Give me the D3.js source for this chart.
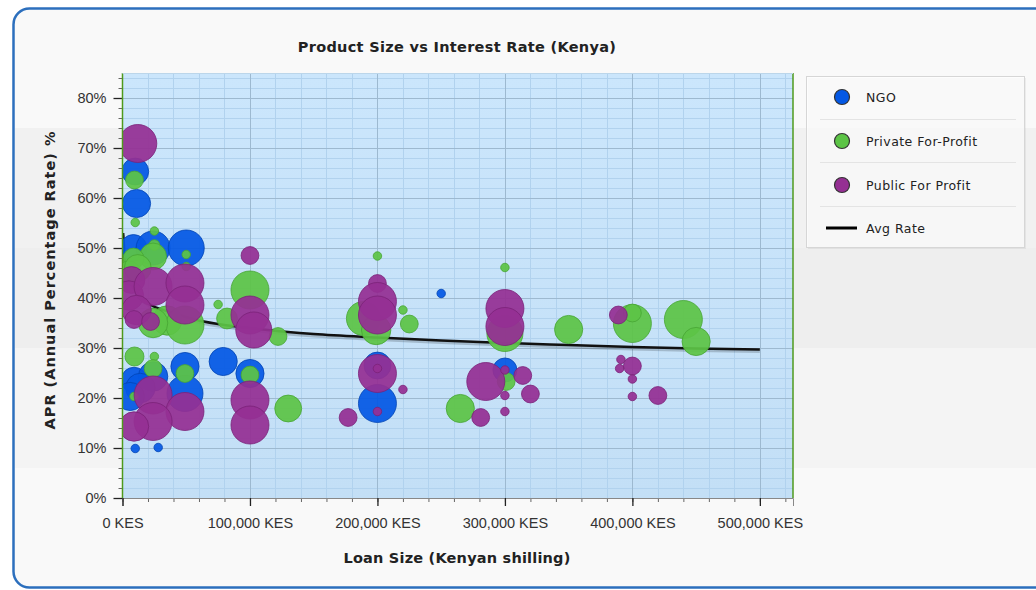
<!DOCTYPE html>
<html>
<head>
<meta charset="utf-8">
<script src="https://cdn.jsdelivr.net/npm/d3@7"></script>
<style>
  body { margin: 0; background: #ffffff; }
  svg { display: block; }
</style>
</head>
<body>
<svg width="1036" height="590"></svg>
<script>
// series: [loan size KES, APR %, bubble size]
var ngoPoints = [
  [10000, 65.3, 50], [11000, 58.9, 55], [8600, 50.0, 50], [24000, 50.0, 80],
  [50000, 50.0, 90], [79000, 27.3, 55], [100000, 24.9, 55], [49000, 26.3, 55],
  [9000, 23.6, 45], [24000, 24.3, 60], [14000, 22.0, 60], [6000, 20.3, 55],
  [49000, 20.9, 90], [10000, 9.9, 5], [28000, 10.1, 5], [250000, 40.9, 5],
  [200000, 26.5, 50], [200000, 18.9, 100], [300000, 25.6, 40]
];
var privatePoints = [
  [9400, 63.6, 22], [10000, 55.1, 5], [25000, 53.4, 5], [25000, 50.6, 8],
  [50000, 48.7, 5], [50000, 46.3, 5], [24000, 48.3, 50], [8600, 47.9, 30],
  [5000, 45.0, 40], [12000, 46.0, 50], [35000, 35.5, 60], [49000, 34.6, 100],
  [24000, 35.0, 60], [100000, 41.6, 100],
  [75000, 38.7, 5], [82000, 35.9, 30], [122000, 32.3, 22], [9400, 28.3, 25],
  [25000, 28.3, 5], [24000, 25.9, 22], [49000, 24.9, 22], [100000, 24.6, 22],
  [9000, 20.3, 5], [130000, 17.9, 50], [200000, 48.4, 5], [189000, 35.9, 80],
  [199000, 33.6, 60], [220000, 37.6, 5], [225000, 34.8, 22], [300000, 46.1, 5],
  [300000, 32.9, 90], [350000, 33.7, 55], [400000, 34.9, 100], [400000, 37.0, 22],
  [440000, 35.7, 100], [450000, 31.3, 55], [265000, 17.9, 55], [301000, 23.3, 22]
];
var publicPoints = [
  [12000, 70.9, 100], [100000, 48.5, 22], [7000, 43.6, 50], [5000, 40.5, 60],
  [24000, 42.3, 100], [49000, 43.0, 100], [49000, 38.6, 100], [11000, 37.6, 60],
  [9000, 35.7, 22], [22000, 35.3, 22], [100000, 36.6, 100], [103000, 33.6, 90],
  [24000, 20.6, 100], [49000, 17.3, 100], [24000, 15.3, 100], [9000, 14.3, 60],
  [100000, 19.6, 100], [100000, 14.6, 100], [200000, 42.9, 22], [200000, 39.3, 100],
  [200000, 36.6, 100], [200000, 24.9, 100], [200000, 25.9, 5], [200000, 17.3, 5],
  [220000, 21.7, 5], [177000, 16.1, 22], [281000, 16.1, 22], [285000, 23.3, 100],
  [300000, 37.9, 100], [300000, 34.3, 100], [300000, 25.6, 5], [300000, 20.5, 5],
  [300000, 17.3, 5], [314000, 24.5, 22], [320000, 20.8, 22], [389000, 36.6, 22],
  [391000, 27.7, 5], [390000, 25.9, 5], [400000, 26.4, 22], [400000, 23.8, 5],
  [400000, 20.3, 5], [420000, 20.5, 22]
];
var avgRate = [
  [500, 53.0], [2000, 47.5], [5000, 44.0], [10000, 41.5], [20000, 39.0],
  [40000, 37.0], [60000, 35.5], [80000, 34.6], [100000, 34.0], [150000, 32.8],
  [200000, 32.1], [250000, 31.5], [300000, 31.0], [350000, 30.6], [400000, 30.2],
  [450000, 29.9], [500000, 29.7]
];
var seriesNames = ["NGO", "Private For-Profit", "Public For Profit"];
var seriesFill = ["#0458e4", "#5cc446", "#952f93"];
var seriesStroke = ["#0345b4", "#47a534", "#7a2278"];
var xTicks = [0, 100000, 200000, 300000, 400000, 500000];
var yTicks = [0, 10, 20, 30, 40, 50, 60, 70, 80];

var svg = d3.select("svg");

// page / panel background
svg.append("rect").attr("x", 13).attr("y", 8).attr("width", 1100).attr("height", 580)
  .attr("rx", 16).attr("fill", "#f9f9f9");
var bands = [[128, 248, "#f1f1f1"], [248, 348, "#eeeeee"], [348, 468, "#f4f4f4"]];
svg.selectAll(".band").data(bands).enter().append("rect")
  .attr("x", 15).attr("width", 1021)
  .attr("y", function (d) { return d[0]; })
  .attr("height", function (d) { return d[1] - d[0]; })
  .attr("fill", function (d) { return d[2]; });
svg.append("rect").attr("x", 13.5).attr("y", 8.5).attr("width", 1100).attr("height", 579)
  .attr("rx", 16).attr("fill", "none").attr("stroke", "#2c6fbd").attr("stroke-width", 2.5);

var x = d3.scaleLinear().domain([0, 526000]).range([122.5, 793]);
var y = d3.scaleLinear().domain([0, 85]).range([498, 73]);
var r = d3.scaleSqrt().domain([0, 100]).range([0, 19]);

// plot background
var defs = svg.append("defs");
var grad = defs.append("linearGradient").attr("id", "plotbg")
  .attr("x1", 0).attr("y1", 0).attr("x2", 0).attr("y2", 1);
grad.append("stop").attr("offset", "0%").attr("stop-color", "#cbe6fc");
grad.append("stop").attr("offset", "100%").attr("stop-color", "#c3dff6");
defs.append("clipPath").attr("id", "plotclip").append("rect")
  .attr("x", 122.5).attr("y", 73).attr("width", 793 - 122.5).attr("height", 425);

svg.append("rect").attr("x", 122.5).attr("y", 73).attr("width", 793 - 122.5).attr("height", 425)
  .attr("fill", "url(#plotbg)");

// grid
var grid = svg.append("g");
grid.selectAll(".vminor").data(d3.range(20000, 526000, 20000)).enter().append("line")
  .attr("x1", function (d) { return Math.round(x(d)) + 0.5; })
  .attr("x2", function (d) { return Math.round(x(d)) + 0.5; })
  .attr("y1", 73).attr("y2", 498).attr("stroke", "#b1d2ee");
grid.selectAll(".hminor").data(d3.range(2, 86, 2)).enter().append("line")
  .attr("y1", function (d) { return Math.round(y(d)) + 0.5; })
  .attr("y2", function (d) { return Math.round(y(d)) + 0.5; })
  .attr("x1", 122.5).attr("x2", 793).attr("stroke", "#b1d2ee");
grid.selectAll(".vmajor").data(xTicks.slice(1)).enter().append("line")
  .attr("x1", function (d) { return Math.round(x(d)) + 0.5; })
  .attr("x2", function (d) { return Math.round(x(d)) + 0.5; })
  .attr("y1", 73).attr("y2", 498).attr("stroke", "#9db9d0");
grid.selectAll(".hmajor").data(yTicks.slice(1)).enter().append("line")
  .attr("y1", function (d) { return Math.round(y(d)) + 0.5; })
  .attr("y2", function (d) { return Math.round(y(d)) + 0.5; })
  .attr("x1", 122.5).attr("x2", 793).attr("stroke", "#9db9d0");

var plot = svg.append("g").attr("clip-path", "url(#plotclip)");

// average line (under the bubbles)
var line = d3.line()
  .x(function (d) { return x(d[0]); })
  .y(function (d) { return y(d[1]); })
  .curve(d3.curveMonotoneX);
plot.append("path").datum(avgRate).attr("d", line)
  .attr("transform", "translate(0,2)")
  .attr("fill", "none").attr("stroke", "#000").attr("stroke-opacity", 0.18).attr("stroke-width", 3);
plot.append("path").datum(avgRate).attr("d", line)
  .attr("fill", "none").attr("stroke", "#111").attr("stroke-width", 2.5);

// bubbles
[ngoPoints, privatePoints, publicPoints].forEach(function (pts, i) {
  plot.append("g").selectAll("circle").data(pts).enter().append("circle")
    .attr("cx", function (d) { return x(d[0]); })
    .attr("cy", function (d) { return y(d[1]); })
    .attr("r", function (d) { return r(d[2]); })
    .attr("fill", seriesFill[i])
    .attr("fill-opacity", 0.93)
    .attr("stroke", seriesStroke[i])
    .attr("stroke-opacity", 0.8)
    .attr("stroke-width", 1);
});

// axes
var yMinor = svg.append("g").attr("transform", "translate(122.5,0)")
  .call(d3.axisLeft(y).tickValues(d3.range(0, 86, 2)).tickSize(4).tickFormat(""));
yMinor.select(".domain").remove();
yMinor.selectAll("line").attr("stroke", "#666");

var yAxis = svg.append("g").attr("transform", "translate(122.5,0)")
  .call(d3.axisLeft(y).tickValues(yTicks).tickSize(9).tickPadding(7)
    .tickFormat(function (d) { return d + "%"; }));
yAxis.select(".domain").remove();
yAxis.selectAll("line").attr("stroke", "#222").attr("stroke-width", 1.3);
yAxis.selectAll("text").attr("font-family", "Liberation Sans, Arial, sans-serif")
  .attr("font-size", 14.5).attr("fill", "#333");

var xMinor = svg.append("g").attr("transform", "translate(0,498)")
  .call(d3.axisBottom(x).tickValues(d3.range(0, 526000, 20000)).tickSize(4).tickFormat(""));
xMinor.select(".domain").remove();
xMinor.selectAll("line").attr("stroke", "#666");

var xAxis = svg.append("g").attr("transform", "translate(0,498)")
  .call(d3.axisBottom(x).tickValues(xTicks).tickSize(8).tickPadding(12)
    .tickFormat(function (d) { return d3.format(",")(d) + " KES"; }));
xAxis.select(".domain").attr("stroke", "#888");
xAxis.selectAll("line").attr("stroke", "#222").attr("stroke-width", 1.3);
xAxis.selectAll("text").attr("font-family", "Liberation Sans, Arial, sans-serif")
  .attr("font-size", 14.5).attr("fill", "#333");

// green side borders
svg.append("line").attr("x1", 122.5).attr("x2", 122.5).attr("y1", 73).attr("y2", 498)
  .attr("stroke", "#4f9a1c").attr("stroke-width", 1.5);
svg.append("line").attr("x1", 793).attr("x2", 793).attr("y1", 73).attr("y2", 498)
  .attr("stroke", "#4f9a1c").attr("stroke-width", 1.5);
svg.append("line").attr("x1", 122.5).attr("x2", 793).attr("y1", 73.5).attr("y2", 73.5)
  .attr("stroke", "#bcd6ea");

// titles
svg.append("text").attr("x", 457).attr("y", 52).attr("text-anchor", "middle")
  .attr("font-family", "DejaVu Sans, Verdana, sans-serif").attr("font-weight", "bold")
  .attr("font-size", 14.5).attr("letter-spacing", 0.3).attr("fill", "#222")
  .text("Product Size vs Interest Rate (Kenya)");
svg.append("text").attr("x", 457).attr("y", 563).attr("text-anchor", "middle")
  .attr("font-family", "DejaVu Sans, Verdana, sans-serif").attr("font-weight", "bold")
  .attr("font-size", 14.5).attr("letter-spacing", 0.2).attr("fill", "#222")
  .text("Loan Size (Kenyan shilling)");
svg.append("text").attr("transform", "translate(55,280) rotate(-90)").attr("text-anchor", "middle")
  .attr("font-family", "DejaVu Sans, Verdana, sans-serif").attr("font-weight", "bold")
  .attr("font-size", 14.5).attr("letter-spacing", 1).attr("fill", "#222")
  .text("APR (Annual Percentage Rate) %");

// legend
var legend = svg.append("g");
legend.append("rect").attr("x", 808).attr("y", 78).attr("width", 218).attr("height", 171)
  .attr("fill", "#000").attr("opacity", 0.05);
legend.append("rect").attr("x", 806.5).attr("y", 76.5).attr("width", 218).attr("height", 171)
  .attr("fill", "#fdfdfd").attr("fill-opacity", 0.75).attr("stroke", "#d6d6d6");
legend.selectAll(".sep").data([119, 162, 206]).enter().append("line")
  .attr("x1", 820).attr("x2", 1016)
  .attr("y1", function (d) { return d + 0.5; }).attr("y2", function (d) { return d + 0.5; })
  .attr("stroke", "#e4e4e4");
var items = legend.selectAll(".item").data(seriesNames).enter().append("g")
  .attr("transform", function (d, i) { return "translate(0," + (97 + i * 44) + ")"; });
items.append("circle").attr("cx", 842).attr("cy", 0).attr("r", 7.5)
  .attr("fill", function (d, i) { return seriesFill[i]; })
  .attr("stroke", "#333").attr("stroke-width", 1.2);
items.append("text").attr("x", 866).attr("y", 5)
  .attr("font-family", "DejaVu Sans, Verdana, sans-serif").attr("font-size", 12.5)
  .attr("letter-spacing", 0.45).attr("fill", "#222")
  .text(function (d) { return d; });
legend.append("line").attr("x1", 826).attr("x2", 857).attr("y1", 228).attr("y2", 228)
  .attr("stroke", "#000").attr("stroke-width", 3);
legend.append("text").attr("x", 866).attr("y", 233)
  .attr("font-family", "DejaVu Sans, Verdana, sans-serif").attr("font-size", 12.5)
  .attr("letter-spacing", 0.45).attr("fill", "#222").text("Avg Rate");
</script>
</body>
</html>
